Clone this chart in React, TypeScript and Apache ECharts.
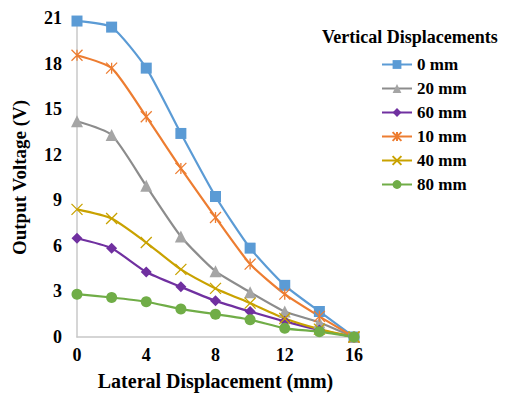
import React, { useEffect, useRef } from "react";
import * as echarts from "echarts";

const xValues = [0, 2, 4, 6, 8, 10, 12, 14, 16];
const s0mm = [20.8, 20.4, 17.7, 13.4, 9.25, 5.85, 3.4, 1.68, 0];
const s20mm = [14.2, 13.3, 9.95, 6.62, 4.33, 2.95, 1.68, 0.96, 0];
const s60mm = [6.5, 5.84, 4.28, 3.3, 2.38, 1.68, 1.03, 0.46, 0];
const s10mm = [18.55, 17.7, 14.5, 11.1, 7.87, 4.8, 2.82, 1.36, 0];
const s40mm = [8.4, 7.8, 6.22, 4.45, 3.2, 2.23, 1.22, 0.52, 0];
const s80mm = [2.82, 2.6, 2.32, 1.84, 1.5, 1.14, 0.57, 0.35, 0];
const yTicks = [0, 3, 6, 9, 12, 15, 18, 21];

const FONT = "'Liberation Serif', 'Times New Roman', serif";

const seriesDefs = [
  { name: "0 mm", data: s0mm, color: "#5B9BD5", symbol: "rect", size: 11 },
  { name: "20 mm", data: s20mm, color: "#A5A5A5", lineColor: "#8C8C8C", symbol: "triangle", size: 12 },
  { name: "60 mm", data: s60mm, color: "#7030A0", symbol: "diamond", size: 11 },
  { name: "10 mm", data: s10mm, color: "#ED7D31", symbol: "path://M0,0L10,10M10,0L0,10M5,0L5,10", size: 11, stroke: true },
  { name: "40 mm", data: s40mm, color: "#C9A200", symbol: "path://M0,0L10,10M10,0L0,10", size: 11, stroke: true },
  { name: "80 mm", data: s80mm, color: "#70AD47", symbol: "circle", size: 11 },
];

export default function App() {
  const ref = useRef<HTMLDivElement>(null);
  useEffect(() => {
    if (!ref.current) return;
    const chart = echarts.init(ref.current, null, { renderer: "svg" });
    chart.setOption({
      animation: false,
      backgroundColor: "#ffffff",
      textStyle: { fontFamily: FONT },
      title: {
        text: "Vertical Displacements",
        left: 317,
        top: 23,
        textStyle: { fontFamily: FONT, fontWeight: "bold", fontSize: 18, color: "#000" },
      },
      legend: {
        orient: "vertical",
        left: 376,
        top: 51,
        itemWidth: 30,
        itemHeight: 11,
        itemGap: 7,
        textStyle: { fontFamily: FONT, fontWeight: "bold", fontSize: 17, color: "#000" },
        data: seriesDefs.map((s) => s.name),
      },
      grid: { left: 77, right: 172, top: 18, bottom: 58 },
      xAxis: {
        type: "value",
        min: 0,
        max: 16,
        interval: 4,
        name: "Lateral Displacement (mm)",
        nameLocation: "middle",
        nameGap: 34,
        nameTextStyle: { fontFamily: FONT, fontWeight: "bold", fontSize: 20, color: "#000" },
        axisLine: { show: true, lineStyle: { color: "#C8C8C8", width: 1.5 } },
        axisTick: { show: false },
        splitLine: { show: false },
        axisLabel: { fontFamily: FONT, fontWeight: "bold", fontSize: 18, color: "#000", margin: 9 },
      },
      yAxis: {
        type: "value",
        min: 0,
        max: 21,
        interval: 3,
        name: "Output Voltage (V)",
        nameLocation: "middle",
        nameGap: 48,
        nameTextStyle: { fontFamily: FONT, fontWeight: "bold", fontSize: 19, color: "#000" },
        axisLine: { show: true, lineStyle: { color: "#C8C8C8", width: 1.5 } },
        axisTick: { show: false },
        splitLine: { show: false },
        axisLabel: {
          fontFamily: FONT,
          fontWeight: "bold",
          fontSize: 18,
          color: "#000",
          margin: 15,
          formatter: (v: number) => (yTicks.includes(v) ? String(v) : ""),
        },
      },
      series: seriesDefs.map((s) => ({
        name: s.name,
        type: "line",
        smooth: 0.2,
        data: xValues.map((x, i) => [x, s.data[i]]),
        symbol: s.symbol,
        symbolSize: s.size,
        lineStyle: { color: s.lineColor || s.color, width: 2.2 },
        itemStyle: s.stroke
          ? { color: s.color, borderColor: s.color, borderWidth: 1.3 }
          : { color: s.color, borderWidth: 0 },
        emphasis: { disabled: true },
      })),
    });
    return () => chart.dispose();
  }, []);
  return (
    <div
      ref={ref}
      style={{ position: "fixed", left: 0, top: 0, width: 526, height: 396 }}
    />
  );
}
